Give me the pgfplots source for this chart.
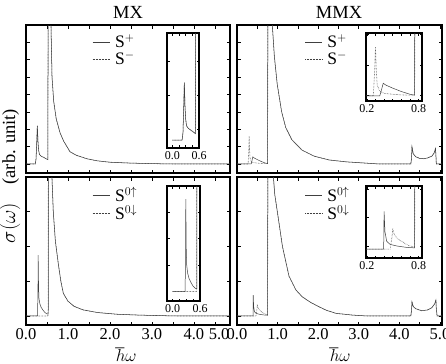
\documentclass[border=0pt]{standalone}
\usepackage{fontspec}
\setmainfont{Liberation Serif}
\usepackage{pgfplots}
\usepackage{pgfplotstable}
\pgfplotsset{compat=1.18}

% MX, S+ and S- (they coincide)
\pgfplotstableread{
x y
0 0
0.22 0
0.24 0.3
0.255 1.2
0.27 2.2
0.285 1.3
0.30 0.8
0.32 0.55
0.36 0.45
0.42 0.38
0.48 0.3
0.52 0.25
0.53 12
0.585 12
0.595 8
0.62 5.0
0.66 3.6
0.72 2.6
0.81 1.8
0.9 1.3
1.05 0.7
1.2 0.5
1.45 0.3
1.7 0.18
2.0 0.1
2.5 0.05
3.0 0.02
3.5 0
4.86 0
}\mxtop

% MX, S0 up
\pgfplotstableread{
x y
0 0
0.275 0
0.285 1.5
0.29 3.5
0.30 1.6
0.31 1.0
0.33 0.7
0.36 0.5
0.40 0.35
0.45 0.2
0.50 0.12
0.53 0.1
0.535 12
0.60 12
0.61 8.5
0.65 6.0
0.70 4.3
0.77 3.0
0.83 2.0
0.89 1.3
1.0 0.85
1.15 0.55
1.36 0.35
1.7 0.2
2.16 0.1
2.7 0.05
3.2 0.02
3.6 0
4.86 0
}\mxup

% MX, S0 down
\pgfplotstableread{
x y
0 0
0.525 0
0.535 12
0.60 12
0.61 8.5
0.65 6.0
0.70 4.3
0.77 3.0
0.83 2.0
0.89 1.3
1.0 0.85
1.15 0.55
1.36 0.35
1.7 0.2
2.16 0.1
2.7 0.05
3.2 0.02
3.6 0
4.86 0
}\mxdn

% MMX, S+
\pgfplotstableread{
x y
0 0
0.35 0
0.37 0.2
0.39 0.41
0.42 0.35
0.50 0.25
0.60 0.14
0.70 0.05
0.755 0.02
0.76 12
0.86 12
0.87 8.0
0.92 6.2
0.99 4.6
1.1 3.0
1.2 2.1
1.35 1.4
1.6 0.8
1.9 0.45
2.27 0.23
2.7 0.12
3.1 0.06
3.5 0
4.28 0
4.30 0.3
4.31 1.0
4.34 0.6
4.4 0.42
4.5 0.32
4.6 0.3
4.7 0.35
4.8 0.45
4.86 0.65
4.89 0.9
4.9 0.5
4.91 0
5.05 0
}\mmxp

% MMX, S-
\pgfplotstableread{
x y
0 0
0.275 0
0.29 0.8
0.30 1.6
0.31 0.8
0.32 0.35
0.35 0.15
0.40 0.08
0.50 0.05
0.60 0.03
0.70 0.02
0.755 0.02
0.76 12
0.86 12
0.87 8.0
0.92 6.2
0.99 4.6
1.1 3.0
1.2 2.1
1.35 1.4
1.6 0.8
1.9 0.45
2.27 0.23
2.7 0.12
3.1 0.06
3.5 0
4.28 0
4.30 0.3
4.31 1.0
4.34 0.6
4.4 0.42
4.5 0.32
4.6 0.3
4.7 0.35
4.8 0.45
4.86 0.65
4.89 0.9
4.9 0.5
4.91 0
5.05 0
}\mmxm

% MMX, S0 up
\pgfplotstableread{
x y
0 0
0.395 0
0.40 1.2
0.41 0.55
0.43 0.25
0.47 0.15
0.55 0.1
0.65 0.06
0.755 0.04
0.76 12
0.86 12
0.88 8.5
0.93 7.0
1.0 5.9
1.12 4.0
1.28 2.3
1.45 1.5
1.61 1.1
1.8 0.8
2.02 0.53
2.2 0.33
2.44 0.15
2.85 0.05
3.2 0
4.28 0
4.30 0.3
4.31 0.82
4.34 0.55
4.4 0.42
4.55 0.3
4.7 0.35
4.8 0.48
4.87 0.7
4.9 0.92
4.91 0.4
4.93 0
5.05 0
}\mmxup

% MMX, S0 down
\pgfplotstableread{
x y
0 0
0.47 0
0.49 0.35
0.50 0.65
0.52 0.45
0.56 0.32
0.62 0.22
0.68 0.12
0.755 0.06
0.76 12
0.86 12
0.88 8.5
0.93 7.0
1.0 5.9
1.12 4.0
1.28 2.3
1.45 1.5
1.61 1.1
1.8 0.8
2.02 0.53
2.2 0.33
2.44 0.15
2.85 0.05
3.2 0
4.28 0
4.30 0.3
4.31 0.82
4.34 0.55
4.4 0.42
4.55 0.3
4.7 0.35
4.8 0.48
4.87 0.7
4.9 0.92
4.91 0.4
4.93 0
5.05 0
}\mmxdn

\pgfplotsset{
  panel/.style={scale only axis, height=148bp, xmin=0, ymin=-0.52, ymax=8,
    anchor=north west,
    axis line style={line width=1.3pt},
    every tick/.style={black, line width=0.7pt},
    major tick length=3.5bp, minor tick length=3.5bp,
    minor xtick={0.5,1.5,2.5,3.5,4.5},
    yticklabels=\empty,
    tick label style={font=\fontsize{16.5bp}{16.5bp}\selectfont},
    /pgf/number format/assume math mode=true,
    legend style={draw=none, fill=none, anchor=north west, column sep=4bp,
      font=\fontsize{17.5bp}{17.5bp}\selectfont, nodes={inner sep=1pt}},
    legend cell align=left},
  inset/.style={scale only axis, anchor=north west,
    axis background/.style={fill=white},
    axis line style={line width=1.1pt},
    every tick/.style={black, line width=0.6pt},
    major tick length=2.5bp, minor tick length=2.5bp,
    yticklabels=\empty,
    tick label style={font=\fontsize{12bp}{12bp}\selectfont},
    /pgf/number format/assume math mode=true},
  sp/.style={black!75, line width=0.5pt},
  sm/.style={black!75, line width=0.6pt, dash pattern=on 0.5pt off 1pt},
}

\begin{document}
\begin{tikzpicture}
\useasboundingbox (0,0) rectangle (446bp,-364bp);

% top left: MX
\begin{axis}[panel, at={(26bp,-25bp)}, width=204bp, xmax=4.86,
  xtick={0,1,2,3,4}, xticklabels=\empty, ytick={0,1,...,7},
  legend style={at={(rel axis cs:0.31,0.955)}}]
\addplot[sp] table {\mxtop};
\addplot[sm] table {\mxtop};
\addlegendentry{S$^{+}$}
\addlegendentry{S$^{-}$}
\end{axis}
\begin{axis}[inset, at={(167bp,-33bp)}, width=32bp, height=115bp,
  xmin=-0.12, xmax=0.6, ymin=-0.3, ymax=4.1,
  xtick={0,0.6}, xticklabels={0.0,0.6}, minor xtick={0.15,0.3,0.45},
  ytick={0.4,1.7,3.0}]
\addplot[sp] table {\mxtop};
\addplot[sm] table {\mxtop};
\end{axis}

% top right: MMX
\begin{axis}[panel, at={(237bp,-25bp)}, width=205bp, xmax=5.05,
  xtick={0,1,2,3,4,5}, xticklabels=\empty, ytick={0,1,...,7},
  legend style={at={(rel axis cs:0.315,0.955)}}]
\addplot[sp] table {\mmxp};
\addplot[sm] table {\mmxm};
\addlegendentry{S$^{+}$}
\addlegendentry{S$^{-}$}
\end{axis}
\begin{axis}[inset, at={(366bp,-33bp)}, width=56bp, height=68bp,
  xmin=0.19, xmax=0.84, ymin=-0.17, ymax=2.05,
  xtick={0.2,0.8}, xticklabels={0.2,0.8}, minor xtick={0.3,0.4,0.5,0.6,0.7},
  ytick={0,1,2}]
\addplot[sp] table {\mmxp};
\addplot[sm] table {\mmxm};
\end{axis}

% bottom left: MX
\begin{axis}[panel, at={(26bp,-177bp)}, width=204bp, xmax=4.86,
  xtick={0,1,2,3,4}, xticklabels={0.0,1.0,2.0,3.0,4.0},
  extra x ticks={4.6}, extra x tick labels={5.0},
  extra x tick style={major tick length=0pt},
  ytick={0,2,4,6},
  legend style={at={(rel axis cs:0.31,0.955)}}]
\addplot[sp] table {\mxup};
\addplot[sm] table {\mxdn};
\addlegendentry{S$^{0\uparrow}$}
\addlegendentry{S$^{0\downarrow}$}
\end{axis}
\begin{axis}[inset, at={(167bp,-186bp)}, width=33bp, height=115bp,
  xmin=-0.12, xmax=0.6, ymin=-0.36, ymax=4.0,
  xtick={0,0.6}, xticklabels={0.0,0.6}, minor xtick={0.15,0.3,0.45},
  ytick={1,2,3}]
\addplot[sp] table {\mxup};
\addplot[sm] table {\mxdn};
\end{axis}

% bottom right: MMX
\begin{axis}[panel, at={(237bp,-177bp)}, width=205bp, xmax=5.05,
  xtick={0,1,2,3,4,5}, xticklabels={0.0,1.0,2.0,3.0,4.0,5.0},
  ytick={0,2,4,6},
  legend style={at={(rel axis cs:0.315,0.955)}}]
\addplot[sp] table {\mmxup};
\addplot[sm] table {\mmxdn};
\addlegendentry{S$^{0\uparrow}$}
\addlegendentry{S$^{0\downarrow}$}
\end{axis}
\begin{axis}[inset, at={(366bp,-186bp)}, width=56bp, height=72bp,
  xmin=0.19, xmax=0.84, ymin=-0.28, ymax=2.0,
  xtick={0.2,0.8}, xticklabels={0.2,0.8}, minor xtick={0.3,0.4,0.5,0.6,0.7},
  ytick={0.1,1.0,1.9}]
\addplot[sp] table {\mmxup};
\addplot[sm] table {\mmxdn};
\end{axis}

% titles and axis labels
\node[anchor=base, font=\fontsize{18.5bp}{18.5bp}\selectfont] at (128bp,-18bp) {MX};
\node[anchor=base, font=\fontsize{18.5bp}{18.5bp}\selectfont] at (339bp,-18bp) {MMX};
\node[anchor=base, inner sep=1pt, font=\fontsize{18bp}{18bp}\selectfont] at (126bp,-361bp) {$\hbar\omega$};
\node[anchor=base, inner sep=1pt, font=\fontsize{18bp}{18bp}\selectfont] at (340bp,-361bp) {$\hbar\omega$};
\node[rotate=90, anchor=center, inner sep=1pt, font=\fontsize{18.5bp}{18.5bp}\selectfont] at (10bp,-176bp)
  {{\fontsize{20bp}{20bp}\selectfont$\sigma(\omega)$}\quad(arb. unit)};
\end{tikzpicture}
\end{document}
